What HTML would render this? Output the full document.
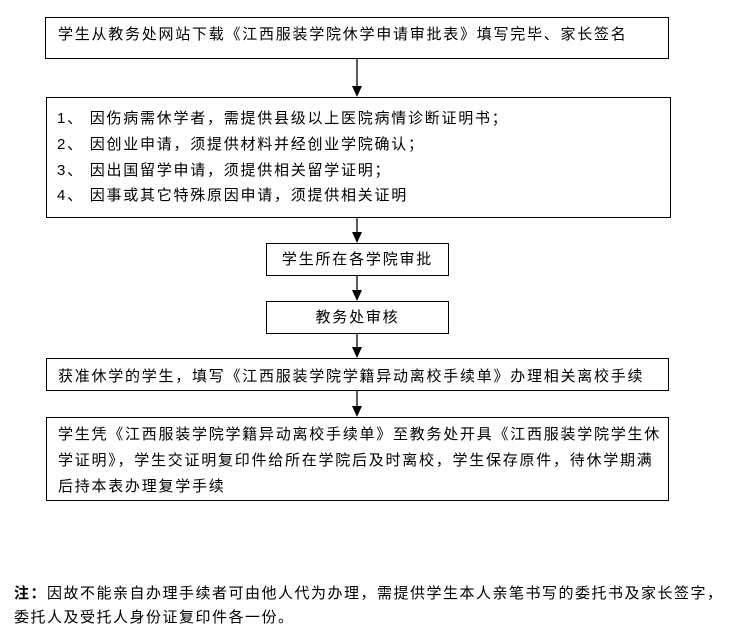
<!DOCTYPE html>
<html><head><meta charset="utf-8"><style>
body{margin:0;width:736px;height:643px;background:#fff;position:relative;font-family:"Liberation Sans","Noto Sans CJK SC","WenQuanYi Zen Hei",sans-serif;font-size:15px;color:#000;overflow:hidden}
.b{position:absolute;border:1px solid #000;box-sizing:border-box;letter-spacing:1.8px}
.t{position:absolute;white-space:nowrap;letter-spacing:1.75px}
svg{position:absolute;left:0;top:0}
</style></head><body>
<svg width="736" height="643">
<g stroke="#000" stroke-width="1.3" fill="#000">
<line x1="357" y1="59" x2="357" y2="88"/><polygon points="352,86 362,86 357,97" stroke="none"/>
<line x1="357" y1="218" x2="357" y2="234"/><polygon points="352,232 362,232 357,243" stroke="none"/>
<line x1="357" y1="275" x2="357" y2="292"/><polygon points="352,290 362,290 357,301" stroke="none"/>
<line x1="357" y1="333" x2="357" y2="349"/><polygon points="352,347 362,347 357,358" stroke="none"/>
<line x1="357" y1="390" x2="357" y2="408"/><polygon points="352,406 362,406 357,417" stroke="none"/>
</g></svg>
<div class="b" style="left:45px;top:17px;width:624px;height:42px"></div>
<div class="t" style="left:58px;top:23px">学生从教务处网站下载《江西服装学院休学申请审批表》填写完毕、家长签名</div>
<div class="b" style="left:46px;top:97px;width:625px;height:121px"></div>
<div class="t" style="left:57px;top:107px">1、 因伤病需休学者，需提供县级以上医院病情诊断证明书；</div>
<div class="t" style="left:57px;top:133px">2、 因创业申请，须提供材料并经创业学院确认；</div>
<div class="t" style="left:57px;top:159px">3、 因出国留学申请，须提供相关留学证明；</div>
<div class="t" style="left:57px;top:184px">4、 因事或其它特殊原因申请，须提供相关证明</div>
<div class="b" style="left:266px;top:243px;width:183px;height:33px;text-align:center;line-height:31px">学生所在各学院审批</div>
<div class="b" style="left:266px;top:301px;width:183px;height:33px;text-align:center;line-height:31px">教务处审核</div>
<div class="b" style="left:46px;top:358px;width:623px;height:33px"></div>
<div class="t" style="left:58px;top:365px">获准休学的学生，填写《江西服装学院学籍异动离校手续单》办理相关离校手续</div>
<div class="b" style="left:46px;top:417px;width:623px;height:84px"></div>
<div class="t" style="left:58px;top:423px">学生凭《江西服装学院学籍异动离校手续单》至教务处开具《江西服装学院学生休</div>
<div class="t" style="left:58px;top:449px">学证明》，学生交证明复印件给所在学院后及时离校，学生保存原件，待休学期满</div>
<div class="t" style="left:58px;top:475px">后持本表办理复学手续</div>
<div class="t" style="left:14px;top:582px;letter-spacing:1.5px"><b>注：</b>因故不能亲自办理手续者可由他人代为办理，需提供学生本人亲笔书写的委托书及家长签字，</div>
<div class="t" style="left:14px;top:606px;letter-spacing:1.5px">委托人及受托人身份证复印件各一份。</div>
</body></html>
